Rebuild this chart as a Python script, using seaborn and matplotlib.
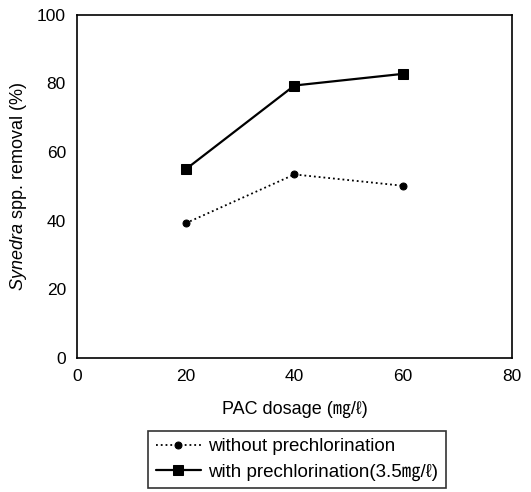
import matplotlib
matplotlib.use("Agg")
import matplotlib.pyplot as plt
import seaborn as sns
import pandas as pd

dosage = [20, 40, 60]
without_prechlor = [39.3, 53.5, 50.2]
with_prechlor = [55.0, 79.4, 82.8]
label_without = "without prechlorination"
label_with = "with prechlorination(3.5\u338e/\u2113)"
xticks = [0, 20, 40, 60, 80]
yticks = [0, 20, 40, 60, 80, 100]

sns.set_theme(style="white")
plt.rcParams['font.family'] = ['Liberation Sans', 'Noto Sans CJK KR', 'DejaVu Sans']
plt.rcParams['mathtext.fontset'] = 'custom'
plt.rcParams['mathtext.it'] = 'Liberation Sans:italic'
plt.rcParams['mathtext.rm'] = 'Liberation Sans'

df_wo = pd.DataFrame({"x": dosage, "y": without_prechlor})
df_w = pd.DataFrame({"x": dosage, "y": with_prechlor})

fig = plt.figure(figsize=(5.31, 4.92), dpi=100)
ax = fig.add_axes([0.145, 0.272, 0.819, 0.698])

sns.lineplot(data=df_wo, x="x", y="y", ax=ax, color="black", linestyle=":",
             linewidth=1.3, marker="o", markersize=5, markeredgecolor="black",
             label=label_without)
sns.lineplot(data=df_w, x="x", y="y", ax=ax, color="black", linestyle="-",
             linewidth=1.6, marker="s", markersize=7, markeredgecolor="black",
             label=label_with)

ax.set_xlim(0, 80)
ax.set_ylim(0, 100)
ax.set_xticks(xticks)
ax.set_yticks(yticks)
ax.tick_params(axis="both", labelsize=12.5, length=2, direction="in", color="black",
               pad=8, labelcolor="black")
for s in ax.spines.values():
    s.set_color("black")
    s.set_linewidth(1.2)

ax.set_xlabel("PAC dosage (\u338e/\u2113)", fontsize=13, color="black", labelpad=12)
ax.set_ylabel("$\\mathit{Synedra}$ spp. removal (%)", fontsize=13, color="black", labelpad=6)

handles, labels = ax.get_legend_handles_labels()
ax.get_legend().remove()
leg = fig.legend(handles, labels, loc="center", bbox_to_anchor=(0.559, 0.066),
                 frameon=True, fancybox=False, fontsize=13.5, handlelength=2.4,
                 borderpad=0.4, labelspacing=0.45, handletextpad=0.4, borderaxespad=0)
leg.get_frame().set_edgecolor("black")
leg.get_frame().set_linewidth(1.2)
for t in leg.get_texts():
    t.set_color("black")

fig.savefig("out.png", dpi=100)
